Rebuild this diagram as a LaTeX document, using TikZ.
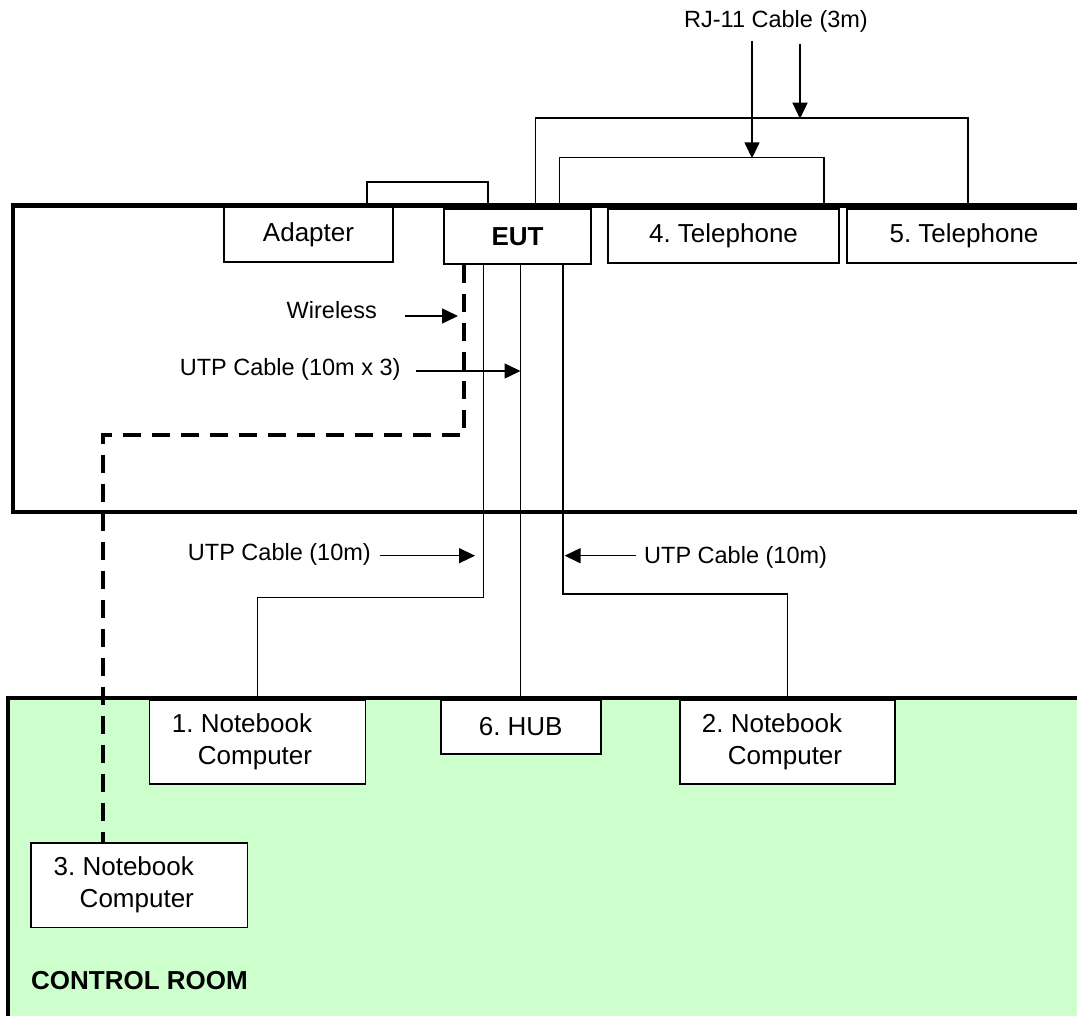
\documentclass[tikz,border=0pt]{standalone}
\usepackage{fontspec}
\setmainfont{Liberation Sans}
\usetikzlibrary{arrows.meta}
\definecolor{roomgreen}{RGB}{204,255,204}
\frenchspacing

\begin{document}
\begin{tikzpicture}[x=1pt,y=-1pt,>={Triangle[length=16pt,width=15pt]},
  box/.style={draw,fill=white,line width=1.6pt,inner sep=0pt,font=\fontsize{26}{32}\selectfont},
  nbtext/.style={align=right,xshift=-15.5pt,font=\fontsize{26}{32}\selectfont},
  room/.style={line width=4.3pt},
  cable/.style={line width=1.5pt},
  wless/.style={line width=3.6pt,dash pattern=on 18pt off 11pt},
  pointer/.style={->,line width=1.5pt},
  lbl/.style={inner sep=0pt,font=\fontsize{23.5}{28}\selectfont}]
  \useasboundingbox (0,0) rectangle (1077,1016);

  % test room and control room
  \draw[room] (1077,205.5) -- (13,205.5) -- (13,512) -- (1077,512);
  \fill[roomgreen] (8,698) rectangle (1077,1016);
  \draw[room] (8,1016) -- (8,698) -- (1077,698);

  % units in the test room
  \node[box,minimum width=169pt,minimum height=55pt] (adapter) at (308.5,234.5) {Adapter};
  \node[box,minimum width=147pt,minimum height=55pt] (eut) at (517.5,236.5) {\bfseries EUT};
  \node[box,minimum width=231pt,minimum height=54pt] (tel4) at (723.5,236) {4. Telephone};
  \node[box,minimum width=234pt,minimum height=54pt] (tel5) at (964,236) {5. Telephone};

  % units in the control room
  \node[box,minimum width=216pt,minimum height=84pt,label={[nbtext]center:1. Notebook\\Computer}] (nb1) at (257.5,742) {};
  \node[box,minimum width=160pt,minimum height=54pt] (hub) at (520.7,727) {6. HUB};
  \node[box,minimum width=215pt,minimum height=84pt,label={[nbtext]center:2. Notebook\\Computer}] (nb2) at (787.5,742) {};
  \node[box,minimum width=216.5pt,minimum height=84.6pt,label={[nbtext]center:3. Notebook\\Computer}] (nb3) at (139.3,885) {};

  \node[lbl,anchor=west,font=\fontsize{26}{32}\selectfont\bfseries] (ctrl) at (31,980.7) {CONTROL ROOM};

  % cables
  \draw[cable] ([xshift=58.5pt]adapter.north) -- ++(0,-24) -| ([xshift=-29.5pt]eut.north);
  \draw[cable] ([xshift=18pt]eut.north) -- ++(0,-90.3) -| ([xshift=4pt]tel5.north);
  \draw[cable] ([xshift=42pt]eut.north) -- ++(0,-50.7) -| ([xshift=100.5pt]tel4.north);
  \draw[wless] ([xshift=-53.5pt]eut.south) -- ++(0,170) -| ([xshift=-36.3pt]nb3.north);
  \draw[cable] ([xshift=-34pt]eut.south) -- ++(0,332.7) -| (nb1.north);
  \draw[cable] (hub.north |- eut.south) -- (hub.north);
  \draw[cable] ([xshift=45.5pt]eut.south) -- ++(0,329.3) -| (nb2.north);

  % cable labels
  \node[lbl] (rj) at (776,21) {RJ-11 Cable (3m)};
  \node[lbl,anchor=east] (wl) at (377,310) {Wireless};
  \node[lbl,anchor=east] (utp3) at (400.7,369) {UTP Cable (10m x 3)};
  \node[lbl,anchor=east] (utpa) at (371,554) {UTP Cable (10m)};
  \node[lbl,anchor=west] (utpb) at (644,557.7) {UTP Cable (10m)};

  \coordinate (rj1a) at (752,41);    \coordinate (rj1b) at (752,158.3);
  \coordinate (rj2a) at (800,44);    \coordinate (rj2b) at (800,118.7);
  \coordinate (wla) at (404.5,316);  \coordinate (wlb) at (458,316);
  \coordinate (utp3a) at (416,371);  \coordinate (utp3b) at (520.5,371);
  \coordinate (utpaa) at (380,555.7); \coordinate (utpab) at (475,555.7);
  \coordinate (utpba) at (636,555.7); \coordinate (utpbb) at (564.6,555.7);

  \draw[pointer] (rj1a) -- (rj1b);
  \draw[pointer] (rj2a) -- (rj2b);
  \draw[pointer] (wla) -- (wlb);
  \draw[pointer] (utp3a) -- (utp3b);
  \draw[pointer] (utpaa) -- (utpab);
  \draw[pointer] (utpba) -- (utpbb);
\end{tikzpicture}
\end{document}
